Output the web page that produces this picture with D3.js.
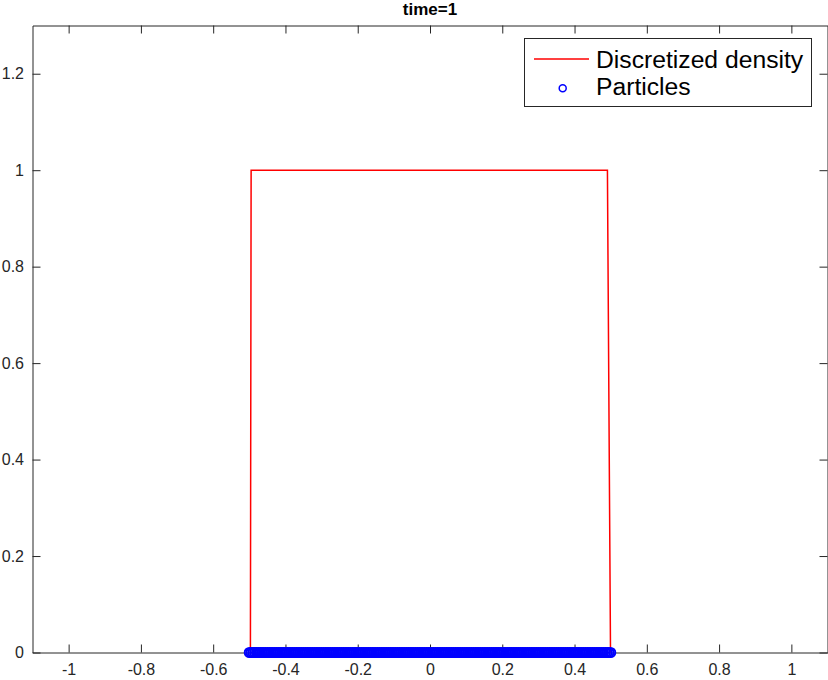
<!DOCTYPE html>
<html><head><meta charset="utf-8">
<script src="https://cdn.jsdelivr.net/npm/d3@7"></script>
<style>body{margin:0;background:#fff}svg{display:block}text{font-family:"Liberation Sans",Arial,Helvetica,sans-serif}</style>
</head><body><svg id="c" width="828" height="680"></svg>
<script>
const titleText = "time=1";
const xTicks = [-1, -0.8, -0.6, -0.4, -0.2, 0, 0.2, 0.4, 0.6, 0.8, 1];
const xTickLabels = ["-1", "-0.8", "-0.6", "-0.4", "-0.2", "0", "0.2", "0.4", "0.6", "0.8", "1"];
const yTicks = [0, 0.2, 0.4, 0.6, 0.8, 1, 1.2];
const yTickLabels = ["0", "0.2", "0.4", "0.6", "0.8", "1", "1.2"];
const densityX = [-0.497, -0.495, 0.491, 0.4995];
const densityY = [0, 1, 1, 0];
const particlesX = [
  -0.5,-0.495,-0.49,-0.485,-0.48,-0.475,-0.47,-0.465,-0.46,-0.455,
  -0.45,-0.445,-0.44,-0.435,-0.43,-0.425,-0.42,-0.415,-0.41,-0.405,
  -0.4,-0.395,-0.39,-0.385,-0.38,-0.375,-0.37,-0.365,-0.36,-0.355,
  -0.35,-0.345,-0.34,-0.335,-0.33,-0.325,-0.32,-0.315,-0.31,-0.305,
  -0.3,-0.295,-0.29,-0.285,-0.28,-0.275,-0.27,-0.265,-0.26,-0.255,
  -0.25,-0.245,-0.24,-0.235,-0.23,-0.225,-0.22,-0.215,-0.21,-0.205,
  -0.2,-0.195,-0.19,-0.185,-0.18,-0.175,-0.17,-0.165,-0.16,-0.155,
  -0.15,-0.145,-0.14,-0.135,-0.13,-0.125,-0.12,-0.115,-0.11,-0.105,
  -0.1,-0.095,-0.09,-0.085,-0.08,-0.075,-0.07,-0.065,-0.06,-0.055,
  -0.05,-0.045,-0.04,-0.035,-0.03,-0.025,-0.02,-0.015,-0.01,-0.005,
  0,0.005,0.01,0.015,0.02,0.025,0.03,0.035,0.04,0.045,
  0.05,0.055,0.06,0.065,0.07,0.075,0.08,0.085,0.09,0.095,
  0.1,0.105,0.11,0.115,0.12,0.125,0.13,0.135,0.14,0.145,
  0.15,0.155,0.16,0.165,0.17,0.175,0.18,0.185,0.19,0.195,
  0.2,0.205,0.21,0.215,0.22,0.225,0.23,0.235,0.24,0.245,
  0.25,0.255,0.26,0.265,0.27,0.275,0.28,0.285,0.29,0.295,
  0.3,0.305,0.31,0.315,0.32,0.325,0.33,0.335,0.34,0.345,
  0.35,0.355,0.36,0.365,0.37,0.375,0.38,0.385,0.39,0.395,
  0.4,0.405,0.41,0.415,0.42,0.425,0.43,0.435,0.44,0.445,
  0.45,0.455,0.46,0.465,0.47,0.475,0.48,0.485,0.49,0.495,0.5];
const particleY = 0;
const legendLabels = ["Discretized density", "Particles"];

const svg = d3.select("#c");
const L = 32.5, R = 827.5, T = 25.5, B = 652.5;
const x = d3.scaleLinear().domain([-1.1, 1.1]).range([L, R]);
const y = d3.scaleLinear().domain([0, 1.3]).range([B, T]);
const axisColor = "#262626";

svg.append("rect").attr("width", 828).attr("height", 680).attr("fill", "#fff");

function styleAxis(g) {
  g.selectAll("path,line").attr("stroke", axisColor).attr("stroke-width", 1);
  g.selectAll("text").attr("fill", axisColor).style("font-size", "16px")
    .style("font-family", '"Liberation Sans",Arial,sans-serif');
}

svg.append("g").attr("transform", `translate(0,${B})`)
  .call(d3.axisBottom(x).tickValues(xTicks).tickFormat((d, i) => xTickLabels[i])
    .tickSizeInner(-8).tickSizeOuter(0).tickPadding(11)).call(styleAxis);
svg.append("g").attr("transform", `translate(0,${T})`)
  .call(d3.axisTop(x).tickValues(xTicks).tickFormat("")
    .tickSizeInner(-8).tickSizeOuter(0)).call(styleAxis);
svg.append("g").attr("transform", `translate(${L},0)`)
  .call(d3.axisLeft(y).tickValues(yTicks).tickFormat((d, i) => yTickLabels[i])
    .tickSizeInner(-8).tickSizeOuter(0).tickPadding(8.5)).call(styleAxis);
svg.append("g").attr("transform", `translate(${R},0)`)
  .call(d3.axisRight(y).tickValues(yTicks).tickFormat("")
    .tickSizeInner(-8).tickSizeOuter(0)).call(styleAxis);
svg.selectAll(".domain").attr("stroke", axisColor);

svg.append("text").attr("x", x(0)).attr("y", 15).attr("text-anchor", "middle")
  .attr("font-weight", "bold").attr("font-size", 17).attr("fill", "#000").text(titleText);

const line = d3.line().x((d, i) => x(d)).y((d, i) => y(densityY[i]));
svg.append("path").datum(densityX).attr("d", line)
  .attr("fill", "none").attr("stroke", "#ff0000").attr("stroke-width", 1.5);

svg.append("g").selectAll("circle").data(particlesX).join("circle")
  .attr("cx", d => x(d)).attr("cy", y(particleY)).attr("r", 4.6)
  .attr("fill", "none").attr("stroke", "#0000ff").attr("stroke-width", 2);

const lg = svg.append("g");
lg.append("rect").attr("x", 524.5).attr("y", 38.5).attr("width", 287).attr("height", 68)
  .attr("fill", "#fff").attr("stroke", axisColor).attr("stroke-width", 1);
lg.append("line").attr("x1", 534).attr("x2", 589).attr("y1", 59).attr("y2", 59)
  .attr("stroke", "#ff0000").attr("stroke-width", 1.5);
lg.append("circle").attr("cx", 562.7).attr("cy", 88.3).attr("r", 3.5)
  .attr("fill", "none").attr("stroke", "#0000ff").attr("stroke-width", 1.5);
lg.append("text").attr("x", 596).attr("y", 68).attr("font-size", 24.7).attr("fill", "#000").text(legendLabels[0]);
lg.append("text").attr("x", 596).attr("y", 95).attr("font-size", 24.7).attr("fill", "#000").text(legendLabels[1]);
</script></body></html>
